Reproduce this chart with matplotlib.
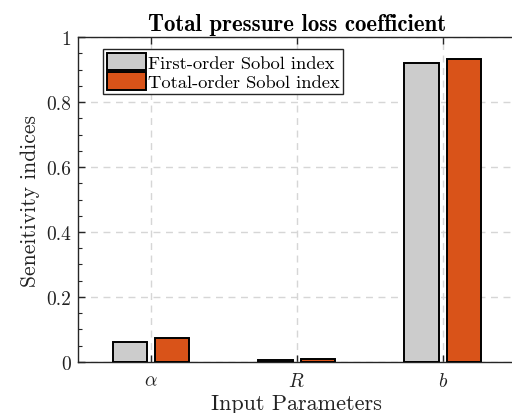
import os

import matplotlib
matplotlib.use("Agg")
import matplotlib.pyplot as plt
import numpy as np
from matplotlib.font_manager import FontProperties
from matplotlib.patches import Patch
from matplotlib.ticker import MultipleLocator

params = [r"$\alpha$", r"$R$", r"$b$"]
first_order = [0.062, 0.005, 0.919]
total_order = [0.075, 0.008, 0.933]
series_names = ["First-order Sobol index", "Total-order Sobol index"]

plt.rcParams["font.family"] = "serif"
plt.rcParams["font.serif"] = ["cmr10"]
plt.rcParams["mathtext.fontset"] = "cm"
plt.rcParams["axes.formatter.use_mathtext"] = True

font_dir = os.path.join(matplotlib.get_data_path(), "fonts", "ttf")
bold_font = FontProperties(fname=os.path.join(font_dir, "cmb10.ttf"), size=16.5)

gray = "#CCCCCC"
orange = "#D95319"
spine = "#262626"

fig = plt.figure(figsize=(5.12, 4.14), dpi=100)
ax = fig.add_axes([0.1523, 0.1232, 0.8545, 0.785])

x = np.arange(1, len(params) + 1)
w = 0.235
off = 0.145
ax.bar(x - off, first_order, w, color=gray, edgecolor="black", linewidth=1.4,
       label=series_names[0], zorder=3)
ax.bar(x + off, total_order, w, color=orange, edgecolor="black", linewidth=1.4,
       label=series_names[1], zorder=3)

ax.set_xlim(0.5, 3.5)
ax.set_ylim(0, 1)
ax.set_xticks(x)
ax.set_xticklabels(params)
ax.set_yticks(np.arange(0, 1.01, 0.2))
ax.set_yticklabels(["0", "0.2", "0.4", "0.6", "0.8", "1"])
ax.yaxis.set_minor_locator(MultipleLocator(0.05))

ax.grid(True, which="major", linestyle=(0, (5, 4)), color="#D6D6D6", linewidth=1.0)
ax.set_axisbelow(True)

ax.tick_params(which="both", direction="in", top=True, right=False,
               colors=spine, labelsize=14, labelcolor="#222222")
ax.tick_params(which="major", length=5, width=1.0)
ax.tick_params(which="minor", length=3, width=0.8)
ax.tick_params(axis="x", pad=7)
ax.tick_params(axis="y", pad=5)
for s in ax.spines.values():
    s.set_color(spine)
    s.set_linewidth(1.0)

ax.set_xlabel("Input Parameters", fontsize=16, labelpad=3, color="#222222")
ax.set_ylabel("Seneitivity indices", fontsize=15.5, labelpad=4, color="#222222")
ax.set_title("Total pressure loss coefficient", fontproperties=bold_font, pad=5)

handles = [Patch(facecolor=gray, edgecolor="black", linewidth=1.4),
           Patch(facecolor=orange, edgecolor="black", linewidth=1.4)]
leg = ax.legend(handles, series_names, loc="upper left",
                bbox_to_anchor=(0.058, 0.963), fontsize=13.3, frameon=True,
                fancybox=False, edgecolor=spine, framealpha=1,
                borderpad=0.2, handlelength=2.1, handleheight=1.05,
                handletextpad=0.1, labelspacing=0.1, borderaxespad=0)
leg.get_frame().set_linewidth(1.0)

fig.savefig("out.png", dpi=100)
